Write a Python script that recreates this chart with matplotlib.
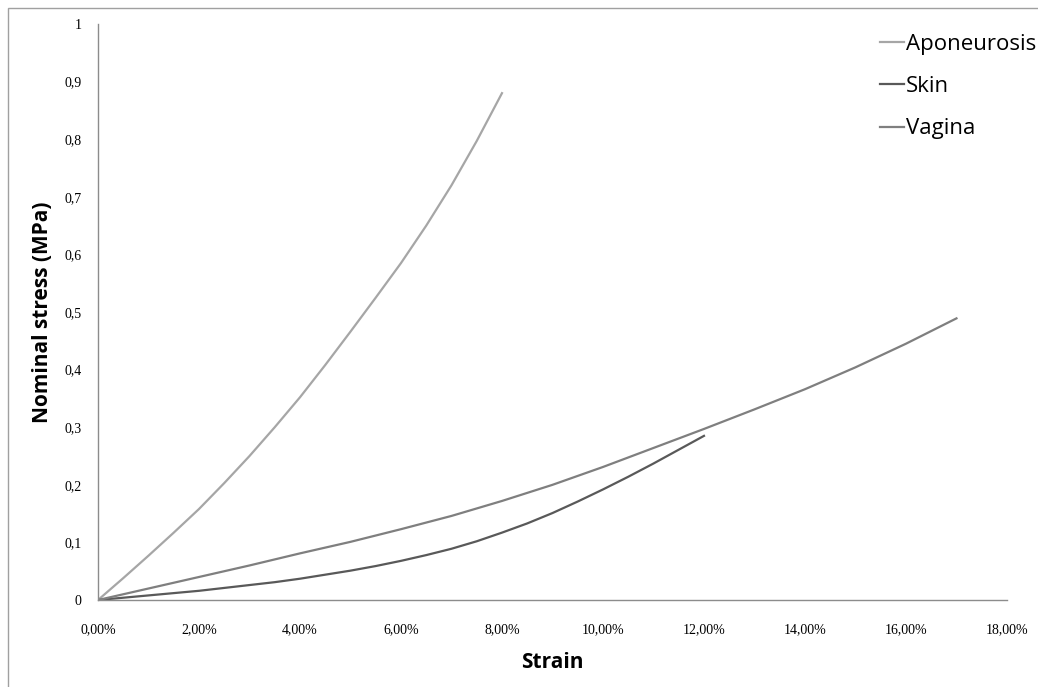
import matplotlib.pyplot as plt
from matplotlib.patches import Rectangle
from matplotlib.ticker import FuncFormatter

# stress-strain curves (strain in %, stress in MPa)
apo_strain = [0, 0.5, 1, 1.5, 2, 2.5, 3, 3.5, 4, 4.5, 5, 5.5, 6, 6.5, 7, 7.5, 8]
apo_stress = [0, 0.038, 0.077, 0.117, 0.158, 0.203, 0.25, 0.3, 0.352, 0.408,
              0.466, 0.525, 0.585, 0.65, 0.72, 0.797, 0.88]

skin_strain = [0, 0.5, 1, 1.5, 2, 2.5, 3, 3.5, 4, 4.5, 5, 5.5, 6, 6.5, 7, 7.5, 8,
               8.5, 9, 9.5, 10, 10.5, 11, 11.5, 12]
skin_stress = [0, 0.004, 0.008, 0.012, 0.016, 0.021, 0.026, 0.031, 0.037, 0.044,
               0.051, 0.059, 0.068, 0.078, 0.089, 0.102, 0.117, 0.133, 0.151,
               0.171, 0.192, 0.214, 0.237, 0.261, 0.285]

vag_strain = [0, 1, 2, 3, 4, 5, 6, 7, 8, 9, 10, 11, 12, 13, 14, 15, 16, 17]
vag_stress = [0, 0.02, 0.04, 0.06, 0.081, 0.101, 0.123, 0.146, 0.172, 0.2,
              0.231, 0.264, 0.297, 0.331, 0.366, 0.404, 0.445, 0.489]

x_ticks = [0, 2, 4, 6, 8, 10, 12, 14, 16, 18]
y_ticks = [0, 0.1, 0.2, 0.3, 0.4, 0.5, 0.6, 0.7, 0.8, 0.9, 1]

fig = plt.figure(figsize=(10.38, 6.87), dpi=100)
ax = fig.add_axes([0.0944, 0.1266, 0.8757, 0.8384])

ax.plot(apo_strain, apo_stress, color="#a6a6a6", lw=1.6, label="Aponeurosis")
ax.plot(skin_strain, skin_stress, color="#595959", lw=1.6, label="Skin")
ax.plot(vag_strain, vag_stress, color="#7f7f7f", lw=1.6, label="Vagina")

ax.set_xlim(0, 18)
ax.set_ylim(0, 1)
ax.set_xticks(x_ticks)
ax.set_yticks(y_ticks)
ax.xaxis.set_major_formatter(FuncFormatter(lambda v, p: ("%.2f%%" % v).replace(".", ",")))
ax.yaxis.set_major_formatter(FuncFormatter(lambda v, p: ("%g" % v).replace(".", ",")))
ax.tick_params(length=0, labelsize=10, colors="#000000")
ax.tick_params(axis="x", pad=17)
ax.tick_params(axis="y", pad=12)
for lab in ax.get_xticklabels() + ax.get_yticklabels():
    lab.set_family("Liberation Serif")

for s in ["top", "right"]:
    ax.spines[s].set_visible(False)
for s in ["left", "bottom"]:
    ax.spines[s].set_color("#8c8c8c")
    ax.spines[s].set_linewidth(1.0)

ax.set_xlabel("Strain", fontsize=15, fontweight="bold", family="Open Sans", labelpad=11)
ax.set_ylabel("Nominal stress (MPa)", fontsize=15, fontweight="bold", family="Open Sans", labelpad=8)

leg = ax.legend(loc="upper left", bbox_to_anchor=(0.848, 0.951), bbox_transform=fig.transFigure,
                frameon=False, handlelength=1.05, handletextpad=0.1, labelspacing=0.96,
                borderaxespad=0, borderpad=0, prop={"family": "Open Sans", "size": 16})

# thin outer border of the chart area
fig.patches.append(Rectangle((8 / 1038, -0.01), 1.1, 1 - 8 / 687 + 0.01, transform=fig.transFigure,
                             fill=False, edgecolor="#a0a0a0", lw=1.0))

fig.savefig("out.png", dpi=100)
